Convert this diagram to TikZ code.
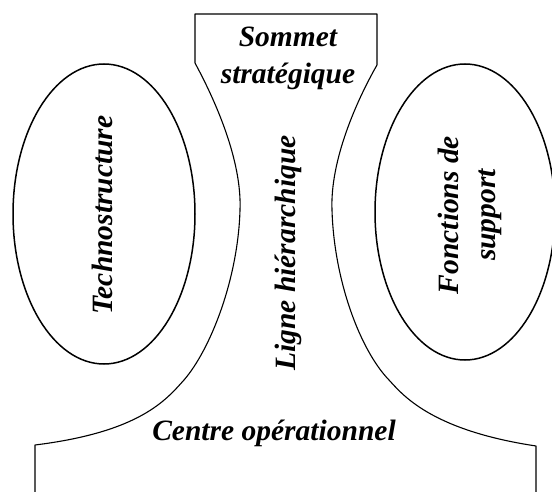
\documentclass[tikz,border=0pt]{standalone}
\usepackage{fontspec}
\setmainfont{Liberation Serif}
\begin{document}
\begin{tikzpicture}[x=1pt,y=-1pt,
  outline/.style={line width=1.1pt, line join=round},
  oval/.style={line width=1.5pt},
  lbl/.style={font=\fontsize{29.5}{37}\selectfont\bfseries\itshape, align=center, inner sep=0pt}]
  \useasboundingbox (0,0) rectangle (552,492);
  \clip (0,0) rectangle (552,492);

  % central organisation body: apex, middle line and operating core
  \draw[outline]
    (35,492) -- (35,445)
    .. controls (140,432) and (166,400) .. (184,380)
    .. controls (210,350) and (238,280) .. (240,210)
    .. controls (242,160) and (215,100) .. (195,63)
    -- (195,14) -- (377,14) -- (377,65)
    .. controls (357,100) and (330,160) .. (332,210)
    .. controls (334,280) and (360,350) .. (389,380)
    .. controls (402,394) and (430,430) .. (536,446)
    -- (536,492);

  % side units
  \draw[oval] (104,214) ellipse [x radius=91, y radius=150];
  \draw[oval] (465,212) ellipse [x radius=90, y radius=148];

  % labels
  \node[lbl] (sommet) at (288,58) {Sommet\\stratégique};
  \node[lbl, rotate=90] (techno) at (102,215) {Technostructure};
  \node[lbl, rotate=90] (ligne) at (288,253) {Ligne hiérarchique};
  \node[lbl, rotate=90] (support) at (470,215) {Fonctions de\\support};
  \node[lbl] (centre) at (274,433) {Centre opérationnel};
\end{tikzpicture}
\end{document}
